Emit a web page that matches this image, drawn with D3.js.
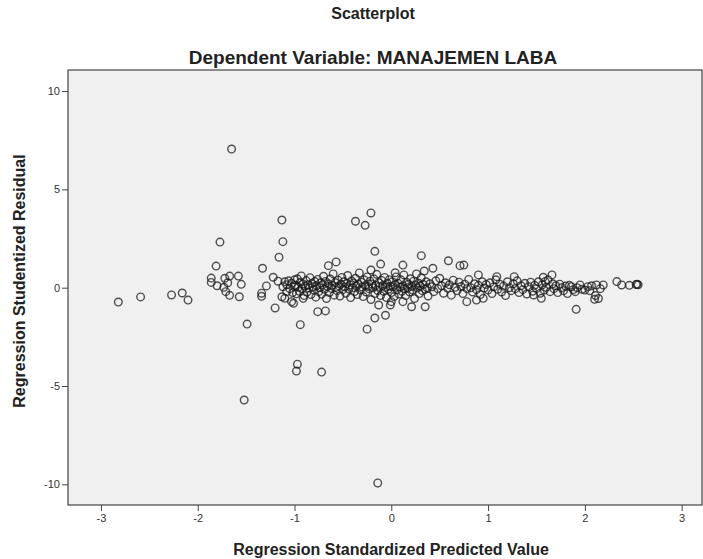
<!DOCTYPE html>
<meta charset="utf-8">
<style>

body {
  margin: 0;
  background-color: white;
  overflow: hidden;
}

text {
  font-family: Arial, "Liberation Sans", sans-serif;
}

.axis path {
  display: none;
}

.axis line {
  stroke: #444;
}

.axis text {
  fill: #333;
  font-size: 11px;
}

circle {
  fill: none;
  stroke: #1a1a1a;
  stroke-opacity: 0.75;
  stroke-width: 1.4;
}

</style>
<body>

<script src="https://cdnjs.cloudflare.com/ajax/libs/d3/7.8.5/d3.min.js"></script>
<script>

var title = "Scatterplot",
    subtitle = "Dependent Variable: MANAJEMEN LABA",
    xTitle = "Regression Standardized Predicted Value",
    yTitle = "Regression Studentized Residual";

var xTicks = [-3, -2, -1, 0, 1, 2, 3],
    yTicks = [-10, -5, 0, 5, 10];

// Regression standardized predicted value
var predicted = [
  -2.82, -2.59, -2.27, -2.16, -2.10,
  -1.86, -1.86, -1.80, -1.81, -1.77, -1.72, -1.67, -1.69, -1.73, -1.71, -1.67, -1.58, -1.55, -1.57, -1.65, -1.52, -1.49,
  -1.33, -1.34, -1.34, -1.29, -1.22, -1.20, -1.16, -1.12, -1.13, -1.17, -1.13, -1.10, -1.03, -0.94,
  -1.10, -1.08, -1.06, -1.05, -1.03, -1.02, -1.00, -1.00, -1.08, -1.12,
  -0.97, -0.98, -0.72, -0.76, -0.68, -0.65, -0.57, -0.37, -0.27, -0.21, -0.17, -0.11, -0.21,
  -0.25, -0.17, -0.06, -0.13, -0.01, -1.01, -0.91, -0.14,
  -0.99, -0.98, -0.97, -0.96, -0.95, -0.94, -0.93, -0.92, -0.91, -0.90,
  -0.89, -0.88, -0.87, -0.86, -0.85, -0.84, -0.83, -0.82, -0.81, -0.80,
  -0.79, -0.78, -0.77, -0.76, -0.75, -0.74, -0.73, -0.72, -0.71, -0.70,
  -0.69, -0.68, -0.67, -0.66, -0.65, -0.64, -0.63, -0.62, -0.61, -0.60,
  -0.59, -0.58, -0.57, -0.56, -0.55, -0.54, -0.53, -0.52, -0.51, -0.50,
  -0.49, -0.48, -0.47, -0.46, -0.45, -0.44, -0.43, -0.42, -0.41, -0.40,
  -0.39, -0.38, -0.37, -0.36, -0.35, -0.34, -0.33, -0.32, -0.31, -0.30,
  -0.29, -0.28, -0.27, -0.26, -0.25, -0.24, -0.23, -0.22, -0.21, -0.20,
  -0.19, -0.18, -0.17, -0.16, -0.15, -0.14, -0.13, -0.12, -0.11, -0.10,
  -0.09, -0.08, -0.07, -0.06, -0.05, -0.04, -0.03, -0.02, -0.01,
  0.00, 0.01, 0.02, 0.03, 0.04, 0.05, 0.06, 0.07, 0.08, 0.09,
  0.10, 0.11, 0.12, 0.13, 0.14, 0.15, 0.16, 0.17, 0.18, 0.19,
  0.20, 0.21, 0.22, 0.23, 0.24, 0.25, 0.26, 0.27, 0.28, 0.29,
  0.30, 0.31, 0.32, 0.33, 0.34, 0.35, 0.36, 0.37, 0.38, 0.40,
  0.42, 0.44, 0.46, 0.48, 0.50, 0.52, 0.54, 0.56, 0.58, 0.60,
  0.62, 0.64, 0.66, 0.68, 0.70, 0.72, 0.74, 0.76, 0.78, 0.80,
  0.82, 0.84, 0.86, 0.88, 0.90, 0.92, 0.94, 0.96, 0.98,
  0.31, 0.12, 0.59, 0.71, 0.75, 0.43, 0.04, 0.90, 0.12, 0.21, 0.35, 0.78, 0.88, 0.95, 0.00,
  1.00, 1.02, 1.04, 1.06, 1.08, 1.09, 1.10, 1.12, 1.14, 1.16,
  1.18, 1.20, 1.22, 1.24, 1.26, 1.27, 1.28, 1.30, 1.32, 1.34,
  1.36, 1.38, 1.40, 1.42, 1.44, 1.46, 1.47, 1.48, 1.50, 1.52,
  1.54, 1.55, 1.56, 1.57, 1.58, 1.59, 1.60, 1.62, 1.64, 1.66,
  1.67, 1.68, 1.70, 1.72, 1.74, 1.76, 1.78, 1.80, 1.82, 1.84,
  1.86, 1.88, 1.90, 1.91, 1.92, 1.95, 1.97, 2.00, 2.03, 2.05,
  2.07, 2.10, 2.11, 2.12, 2.14, 2.16, 2.19, 2.33, 2.38, 2.46,
  2.53, 2.54, 2.55
];

// Regression studentized residual, same order as predicted
var residual = [
  -0.73, -0.47, -0.37, -0.27, -0.63,
  0.49, 0.27, 0.10, 1.10, 2.32, 0.48, 0.59, 0.25, 0.02, -0.20, -0.39, 0.59, 0.17, -0.46, 7.05, -5.71, -1.85,
  0.99, -0.28, -0.44, 0.09, 0.53, -1.03, 1.55, 2.34, 3.44, 0.33, -0.46, -0.54, -0.71, -1.88,
  0.30, 0.15, 0.35, -0.05, 0.22, -0.25, 0.40, 0.05, -0.20, 0.05,
  -3.89, -4.24, -4.29, -1.22, -1.18, 1.12, 1.31, 3.38, 3.17, 3.80, 1.85, 1.20, 0.90,
  -2.11, -1.54, -1.40, -0.88, -0.88, -0.79, -0.54, -9.93,
  0.12, -0.31, 0.45, 0.02, -0.18, 0.28, 0.60, -0.05, 0.19, -0.40,
  0.08, 0.36, -0.22, 0.14, -0.02, 0.51, -0.35, 0.22, 0.05, -0.12,
  0.31, -0.48, 0.10, 0.42, -0.20, 0.00, 0.25, -0.33, 0.15, 0.58,
  -0.08, 0.32, -0.55, 0.06, 0.20, -0.25, 0.44, -0.03, 0.12, 0.70,
  -0.38, 0.26, 0.02, -0.15, 0.38, 0.09, -0.42, 0.18, 0.52, -0.10,
  0.30, 0.04, -0.28, 0.21, 0.62, -0.06, 0.14, -0.50, 0.35, 0.00,
  0.24, -0.20, 0.48, 0.08, -0.35, 0.17, 0.75, -0.12, 0.29, 0.03,
  -0.45, 0.40, 0.11, -0.22, 0.55, 0.06, -0.05, 0.33, -0.60, 0.19,
  0.00, 0.45, -0.30, 0.13, 0.68, -0.14, 0.26, 0.05, -0.40, 0.37,
  0.10, -0.18, 0.52, 0.02, -0.50, 0.22, -0.08, 0.41, 0.07,
  -0.25, 0.30, 0.05, -0.45, 0.15, 0.55, -0.10, 0.22, -0.32, 0.02,
  0.40, -0.18, 0.10, 0.65, -0.05, -0.40, 0.27, 0.00, 0.18, -0.22,
  0.45, 0.06, -0.12, 0.33, -0.55, 0.12, 0.70, -0.02, 0.24, -0.30,
  0.08, 0.50, -0.15, 0.16, 0.85, -0.08, 0.30, 0.00, -0.42, 0.20,
  0.05, -0.20, 0.35, -0.05, 0.48, 0.10, -0.28, 0.25, -0.02, 0.15,
  -0.38, 0.38, 0.02, -0.15, 0.28, 0.06, -0.30, 0.18, -0.05, 0.42,
  0.00, -0.22, 0.20, -0.10, 0.12, -0.35, 0.30, -0.02, 0.16,
  1.63, 1.15, 1.37, 1.12, 1.15, 0.99, 0.76, 0.65, -0.71, -0.97, -0.97, -0.71, -0.63, -0.54, -0.71,
  -0.12, 0.25, -0.30, 0.05, 0.40, 0.56, -0.08, 0.18, -0.22, 0.08,
  -0.40, 0.30, 0.00, -0.15, 0.20, 0.56, -0.05, 0.35, -0.25, 0.10,
  -0.10, 0.22, -0.32, 0.05, 0.28, -0.18, -0.37, 0.12, -0.05, 0.30,
  -0.28, -0.54, 0.15, 0.53, -0.12, 0.31, 0.02, 0.40, -0.20, 0.65,
  0.20, -0.05, 0.10, -0.25, 0.18, 0.00, -0.15, 0.08, -0.30, 0.12,
  0.05, -0.10, -0.20, -1.10, 0.00, 0.14, -0.08, -0.12, 0.05, -0.15,
  0.10, -0.59, -0.40, 0.14, -0.55, -0.05, 0.14, 0.31, 0.14, 0.12,
  0.16, 0.18, 0.15
];

var width = 703,
    height = 559;

var plot = {left: 68, right: 702, top: 70, bottom: 505};

var x = d3.scaleLinear()
    .domain([-3.34, 3.21])
    .range([plot.left, plot.right]);

var y = d3.scaleLinear()
    .domain([-11.05, 11.07])
    .range([plot.bottom, plot.top]);

// SPSS prints plain hyphen minus signs
var plain = function(d) { return String(d); };

var svg = d3.select("body").append("svg")
    .attr("width", width)
    .attr("height", height);

svg.append("rect")
    .attr("x", plot.left)
    .attr("y", plot.top)
    .attr("width", plot.right - plot.left)
    .attr("height", plot.bottom - plot.top)
    .attr("fill", "#f0f0f0")
    .attr("stroke", "#444")
    .attr("stroke-width", 1.2);

svg.append("g")
    .attr("class", "axis")
    .attr("transform", "translate(0," + plot.bottom + ")")
    .call(d3.axisBottom(x).tickValues(xTicks).tickFormat(plain).tickSize(6).tickPadding(3));

svg.append("g")
    .attr("class", "axis")
    .attr("transform", "translate(" + plot.left + ",0)")
    .call(d3.axisLeft(y).tickValues(yTicks).tickFormat(plain).tickSize(6).tickPadding(2));

var points = predicted.map(function(d, i) { return [d, residual[i]]; });

svg.append("g").selectAll("circle")
    .data(points)
  .enter().append("circle")
    .attr("cx", function(d) { return x(d[0]); })
    .attr("cy", function(d) { return y(d[1]); })
    .attr("r", 3.8);

svg.append("text")
    .attr("x", 373)
    .attr("y", 19)
    .attr("text-anchor", "middle")
    .style("font-size", "16px")
    .style("font-weight", "bold")
    .style("fill", "#222")
    .text(title);

svg.append("text")
    .attr("x", 373)
    .attr("y", 64)
    .attr("text-anchor", "middle")
    .style("font-size", "19px")
    .style("font-weight", "bold")
    .style("fill", "#222")
    .text(subtitle);

svg.append("text")
    .attr("x", 391)
    .attr("y", 555)
    .attr("text-anchor", "middle")
    .style("font-size", "16px")
    .style("font-weight", "bold")
    .style("fill", "#222")
    .text(xTitle);

svg.append("text")
    .attr("transform", "translate(25," + 281 + ")rotate(-90)")
    .attr("text-anchor", "middle")
    .style("font-size", "16px")
    .style("font-weight", "bold")
    .style("fill", "#222")
    .text(yTitle);

</script>
